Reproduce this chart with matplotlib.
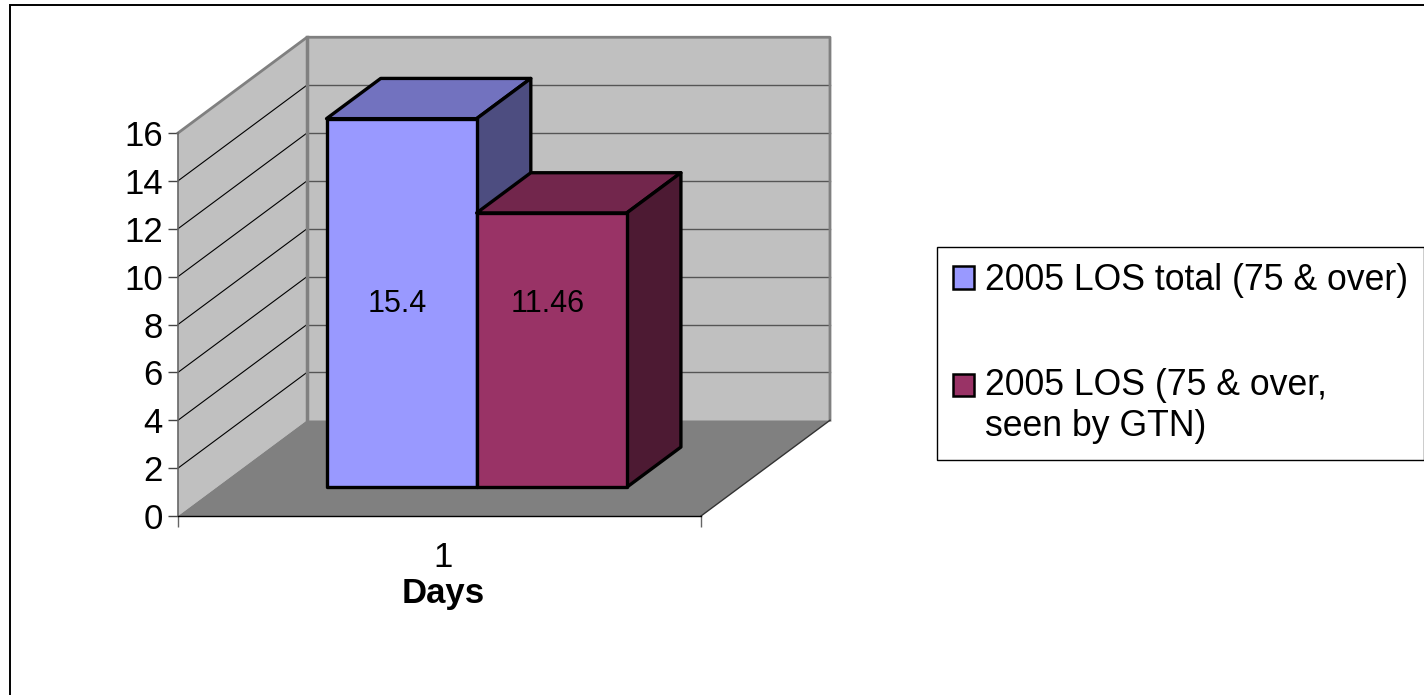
import matplotlib
matplotlib.use("Agg")
import matplotlib.pyplot as plt
from matplotlib.patches import Polygon, Rectangle, Patch
from matplotlib.legend_handler import HandlerPatch

plt.rcParams['font.family'] = ['Liberation Sans', 'DejaVu Sans']

# data
categories = ['1']
series_names = ['2005 LOS total (75 & over)', '2005 LOS (75 & over,\nseen by GTN)']
series_values = [15.4, 11.46]
series_colors = ['#9999FF', '#993366']
top_colors = ['#7272BF', '#72264C']
side_colors = ['#4D4D80', '#4D1A33']
y_ticks = [0, 2, 4, 6, 8, 10, 12, 14, 16]

# 3d look, in data units
DX = 129 / 523
DY = 4.0
bar_start = 0.21
bar_w = 0.287
d0, d1 = 0.30, 0.72

W, H = 1424, 695
fig = plt.figure(figsize=(W / 100, H / 100), dpi=100, facecolor='white')
fig.add_artist(Rectangle((10 / W, -0.05), 1.1, 1.05 - 4.5 / H, transform=fig.transFigure,
                         fill=False, ec='black', lw=1.4))

ax = fig.add_axes([178 / W, 1 - 516 / H, 523 / W, 383 / H])
ax.set_xlim(0, 1)
ax.set_ylim(0, 16)
ax.patch.set_visible(False)


def pt(x, y, d):
    return (x + d * DX, y + d * DY)


def poly(pts, fc, ec='none', lw=0, z=1):
    ax.add_patch(Polygon(pts, closed=True, fc=fc, ec=ec, lw=lw, zorder=z, clip_on=False, joinstyle='round'))


ymax = y_ticks[-1]
# walls + floor
poly([pt(0, 0, 0), pt(0, ymax, 0), pt(0, ymax, 1), pt(0, 0, 1)], '#C0C0C0')
poly([pt(0, 0, 1), pt(0, ymax, 1), pt(1, ymax, 1), pt(1, 0, 1)], '#C0C0C0')
poly([pt(0, 0, 0), pt(0, 0, 1), pt(1, 0, 1), pt(1, 0, 0)], '#808080')

for t in y_ticks[1:-1]:
    a, b, c = pt(0, t, 0), pt(0, t, 1), pt(1, t, 1)
    ax.plot([a[0], b[0]], [a[1], b[1]], color='black', lw=0.8, zorder=2, clip_on=False)
    ax.plot([b[0], c[0]], [b[1], c[1]], color='#555555', lw=1.0, zorder=2, clip_on=False)

# wall edges
edge = [pt(0, ymax, 0), pt(0, ymax, 1), pt(1, ymax, 1), pt(1, 0, 1)]
ax.plot([p[0] for p in edge], [p[1] for p in edge], color='#808080', lw=2, zorder=2, clip_on=False)
edge = [pt(0, ymax, 1), pt(0, 0, 1)]
ax.plot([p[0] for p in edge], [p[1] for p in edge], color='#808080', lw=2.5, zorder=2, clip_on=False)
edge = [pt(1, 0, 0), pt(1, 0, 1)]
ax.plot([p[0] for p in edge], [p[1] for p in edge], color='#333333', lw=1, zorder=2, clip_on=False)

# bars
label_y = max(series_values) / 2
for i, v in enumerate(series_values):
    x0 = bar_start + i * bar_w
    x1 = x0 + bar_w
    z = 3 + i
    poly([pt(x0, v, d0), pt(x0, v, d1), pt(x1, v, d1), pt(x1, v, d0)], top_colors[i], 'black', 2.4, z)
    poly([pt(x1, 0, d0), pt(x1, v, d0), pt(x1, v, d1), pt(x1, 0, d1)], side_colors[i], 'black', 2.4, z)
    poly([pt(x0, 0, d0), pt(x0, v, d0), pt(x1, v, d0), pt(x1, 0, d0)], series_colors[i], 'black', 2.4, z)
    lx, ly = pt((x0 + x1) / 2, label_y, d0)
    ax.text(lx - 0.008, ly - 0.04, str(v), ha='center', va='center', fontsize=22, color='black', zorder=6)

# axes
for s in ['top', 'right']:
    ax.spines[s].set_visible(False)
ax.spines['left'].set_color('#666666')
ax.spines['left'].set_linewidth(1.2)
ax.spines['bottom'].set_color('black')
ax.spines['bottom'].set_linewidth(1.0)
ax.spines['left'].set_zorder(2.5)
ax.spines['bottom'].set_zorder(2.5)
ax.set_yticks(y_ticks)
ax.tick_params(axis='y', labelsize=25, length=7, width=1, color='#444444', pad=4)
ax.set_xticks([0, 1])
ax.set_xticklabels(['', ''])
ax.tick_params(axis='x', which='major', length=8, width=1, color='#666666')
ax.set_xticks([0.507], categories, minor=True)
ax.tick_params(axis='x', which='minor', length=0, labelsize=25, pad=18)
ax.set_xlabel('Days', fontsize=25, fontweight='bold', labelpad=-1)
ax.xaxis.set_label_coords(0.507, -0.16)


def first_line_box(legend, orig_handle, xdescent, ydescent, width, height, fontsize):
    return Rectangle((-xdescent, -ydescent + 15.5), width, height)


handles = [Patch(fc=c, ec='black', lw=1.8) for c in series_colors]
leg = fig.legend(handles, series_names, loc='upper left', bbox_to_anchor=(937 / W, 1 - 247 / H),
                 borderaxespad=0, fontsize=25.7, frameon=True, fancybox=False, framealpha=1,
                 edgecolor='black', handlelength=0.6, handleheight=0.6, handletextpad=0.3,
                 labelspacing=1.95, borderpad=0.45,
                 handler_map={handles[1]: HandlerPatch(patch_func=first_line_box)})
leg.get_frame().set_linewidth(1.0)
leg.get_texts()[1].set_linespacing(1.22)

fig.savefig('out.png', dpi=100)
